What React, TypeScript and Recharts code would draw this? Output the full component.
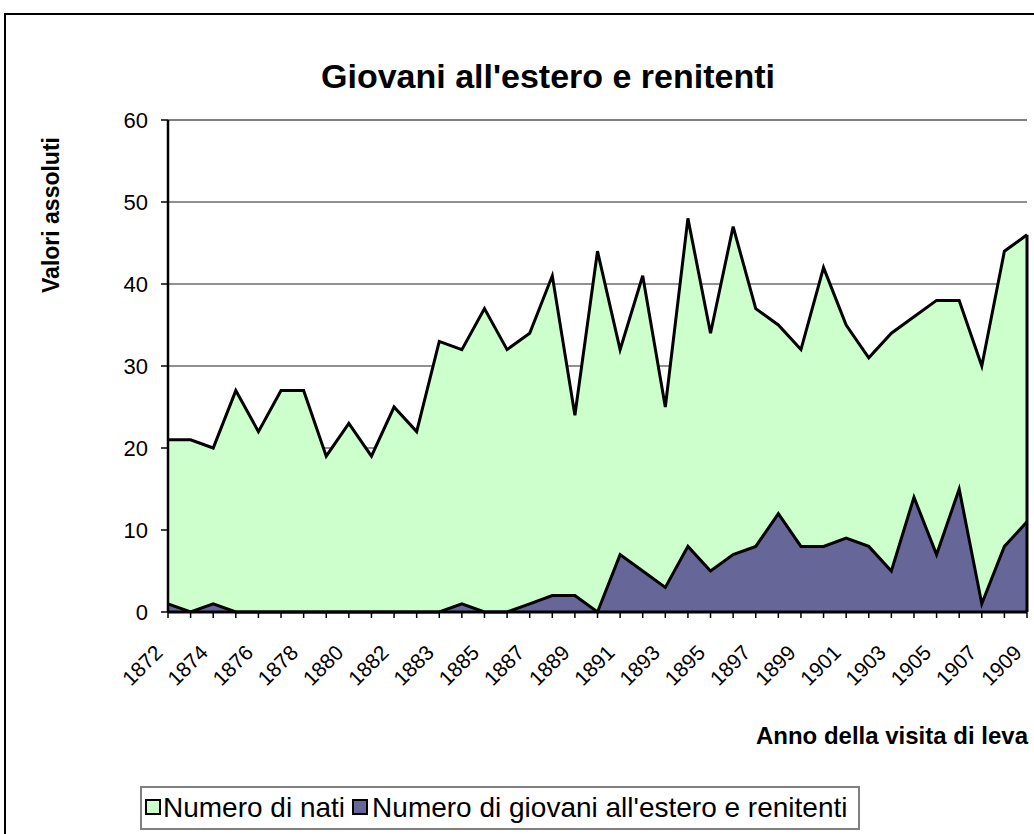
import React from 'react';
import { AreaChart, Area, XAxis, YAxis, CartesianGrid, ReferenceLine } from 'recharts';

const years = [
  '1872', '1873', '1874', '1875', '1876', '1877', '1878', '1879', '1880', '1881',
  '1882', '1883', '1883', '1884', '1885', '1886', '1887', '1888', '1889', '1890',
  '1891', '1892', '1893', '1894', '1895', '1896', '1897', '1898', '1899', '1900',
  '1901', '1902', '1903', '1904', '1905', '1906', '1907', '1908', '1909',
];

const nati = [
  21, 21, 20, 27, 22, 27, 27, 19, 23, 19,
  25, 22, 33, 32, 37, 32, 34, 41, 24, 44,
  32, 41, 25, 48, 34, 47, 37, 35, 32, 42,
  35, 31, 34, 36, 38, 38, 30, 44, 46,
];

const giovani = [
  1, 0, 1, 0, 0, 0, 0, 0, 0, 0,
  0, 0, 0, 1, 0, 0, 1, 2, 2, 0,
  7, 5, 3, 8, 5, 7, 8, 12, 8, 8,
  9, 8, 5, 14, 7, 15, 1, 8, 11,
];

const yTicks = [0, 10, 20, 30, 40, 50, 60];

const data = years.map((year, i) => ({ year, nati: nati[i], giovani: giovani[i] }));

const FONT = '"Liberation Sans", Arial, sans-serif';
const GREEN = '#CCFFCC';
const PURPLE = '#666699';

// Excel shows a label on every second category, but a tick mark on each one
const YearTick = (props: any) => {
  const { x, y, payload, index } = props;
  if (index % 2 !== 0) return null;
  const tx = x - 4;
  const ty = y + 34;
  return (
    <text
      x={tx}
      y={ty}
      transform={`rotate(-45 ${tx} ${ty})`}
      textAnchor="end"
      fontSize={21}
      fontFamily={FONT}
      fill="#000"
    >
      {payload.value}
    </text>
  );
};

const LegendSwatch = ({ color }: { color: string }) => (
  <span
    style={{
      display: 'inline-block',
      width: 12,
      height: 12,
      background: color,
      border: '2px solid #000',
      verticalAlign: 'middle',
      position: 'relative',
      top: -1,
    }}
  />
);

export default function App() {
  const last = years.length - 1;
  return (
    <div
      style={{
        position: 'absolute',
        left: 0,
        top: 0,
        width: 1034,
        height: 834,
        overflow: 'hidden',
        background: '#fff',
        fontFamily: FONT,
      }}
    >
      {/* chart frame */}
      <div
        style={{
          position: 'absolute',
          left: 4,
          top: 13,
          width: 1060,
          height: 860,
          border: '2px solid #000',
          boxSizing: 'border-box',
        }}
      />

      <div
        style={{
          position: 'absolute',
          left: 0,
          width: 1096,
          top: 56,
          textAlign: 'center',
          fontSize: 34,
          fontWeight: 'bold',
          lineHeight: '40px',
        }}
      >
        Giovani all'estero e renitenti
      </div>

      <div style={{ position: 'absolute', left: 0, top: 0 }}>
        <AreaChart
          width={1034}
          height={834}
          data={data}
          margin={{ top: 120, right: 7, left: 108, bottom: 152 }}
        >
          <CartesianGrid vertical={false} horizontal stroke="#222" strokeWidth={1} />
          <XAxis
            dataKey="year"
            height={70}
            interval={0}
            tick={YearTick}
            tickSize={6}
            tickLine={{ stroke: '#000', strokeWidth: 1.5 }}
            axisLine={{ stroke: '#000', strokeWidth: 3 }}
          />
          <YAxis
            width={60}
            domain={[0, 60]}
            ticks={yTicks}
            interval={0}
            tickSize={7}
            tickMargin={13}
            tick={{ fontSize: 22, fill: '#000', fontFamily: FONT }}
            tickLine={{ stroke: '#000', strokeWidth: 1.5 }}
            axisLine={{ stroke: '#000', strokeWidth: 2.5 }}
          />
          <YAxis
            yAxisId="right"
            orientation="right"
            width={0}
            domain={[0, 60]}
            tick={false}
            tickLine={false}
            axisLine={{ stroke: '#808080', strokeWidth: 2 }}
          />
          <ReferenceLine y={60} stroke="#808080" strokeWidth={2} />
          <Area
            type="linear"
            dataKey="nati"
            name="Numero di nati"
            fill={GREEN}
            fillOpacity={1}
            stroke="#000"
            strokeWidth={3}
            dot={false}
            activeDot={false}
            isAnimationActive={false}
          />
          <Area
            type="linear"
            dataKey="giovani"
            name="Numero di giovani all'estero e renitenti"
            fill={PURPLE}
            fillOpacity={1}
            stroke="#000"
            strokeWidth={3}
            dot={false}
            activeDot={false}
            isAnimationActive={false}
          />
          {/* closing edge of the area on the right side, as Excel draws it */}
          <ReferenceLine
            segment={[{ x: last, y: 0 }, { x: last, y: nati[last] }]}
            stroke="#000"
            strokeWidth={3}
          />
        </AreaChart>
      </div>

      {/* axis titles */}
      <div
        style={{
          position: 'absolute',
          left: 51,
          top: 215,
          transform: 'translate(-50%, -50%) rotate(-90deg)',
          whiteSpace: 'nowrap',
          fontSize: 23,
          fontWeight: 'bold',
          lineHeight: '26px',
        }}
      >
        Valori assoluti
      </div>
      <div
        style={{
          position: 'absolute',
          right: 6,
          top: 722,
          whiteSpace: 'nowrap',
          fontSize: 24,
          fontWeight: 'bold',
          lineHeight: '28px',
        }}
      >
        Anno della visita di leva
      </div>

      {/* legend */}
      <div
        style={{
          position: 'absolute',
          left: 140,
          top: 786,
          width: 720,
          height: 44,
          border: '2px solid #808080',
          boxSizing: 'border-box',
          display: 'flex',
          alignItems: 'center',
          paddingLeft: 3,
          fontSize: 28,
          whiteSpace: 'nowrap',
        }}
      >
        <LegendSwatch color={GREEN} />
        <span style={{ marginLeft: 2, marginRight: 7 }}>Numero di nati</span>
        <LegendSwatch color={PURPLE} />
        <span style={{ marginLeft: 4 }}>Numero di giovani all'estero e renitenti</span>
      </div>
    </div>
  );
}
